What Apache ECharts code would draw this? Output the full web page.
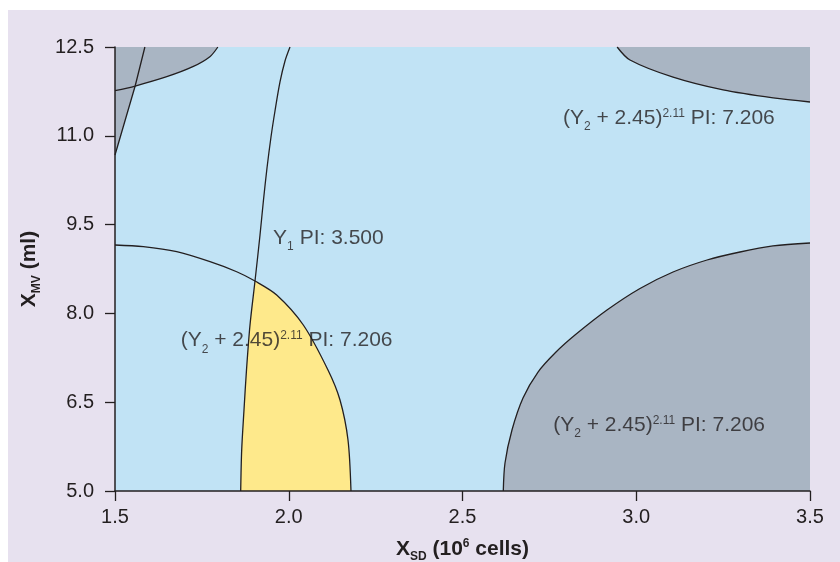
<!DOCTYPE html>
<html>
<head>
<meta charset="utf-8">
<script src="https://cdn.jsdelivr.net/npm/echarts@6/dist/echarts.min.js"></script>
<style>
  html, body { margin: 0; padding: 0; background: #ffffff; }
  #wrap { position: relative; width: 840px; height: 562px; background: #ffffff; overflow: hidden; }
  #bg { position: absolute; left: 8px; top: 10px; right: 0; bottom: 0; background: #e7e1ef; }
  #chart { position: absolute; left: 0; top: 0; width: 840px; height: 562px; }
</style>
</head>
<body>
<div id="wrap"><div id="bg"></div><div id="chart"></div></div>
<script>
// ---- Data ----
const xTicks = [1.5, 2.0, 2.5, 3.0, 3.5];
const yTicks = [5.0, 6.5, 8.0, 9.5, 11.0, 12.5];

// Y1 contour (PI 3.500), main curve
const y1MainContour = [
  [1.8617, 5.0], [1.8646, 5.693], [1.8712, 6.368], [1.8784, 7.044], [1.8885, 7.804],
  [1.9029, 8.547], [1.9173, 9.324], [1.9273, 9.916], [1.9374, 10.456], [1.9489, 10.98],
  [1.9604, 11.419], [1.9748, 11.909], [1.9892, 12.264], [2.0036, 12.5]
];
// Y1 contour, top-left corner piece
const y1CornerContour = [[1.5, 10.676], [1.558, 11.841], [1.586, 12.5]];

// (Y2 + 2.45)^2.11 contour (PI 7.206) pieces
const y2CenterContour = [
  [1.5, 9.155], [1.5814, 9.127], [1.6776, 9.042], [1.7734, 8.873], [1.8502, 8.704],
  [1.9029, 8.547], [1.9653, 8.311], [2.0419, 7.804], [2.1129, 7.044], [2.1475, 6.537],
  [2.1705, 5.861], [2.1791, 5.0]
];
const y2TopLeftContour = [
  [1.5, 11.762], [1.558, 11.841], [1.649, 11.998], [1.724, 12.167], [1.773, 12.336], [1.796, 12.5]
];
const y2TopRightContour = [
  [2.945, 12.5], [2.982, 12.28], [3.106, 11.99], [3.25, 11.774], [3.394, 11.639], [3.5, 11.571]
];
const y2BottomRightContour = [
  [2.6174, 5.0], [2.6223, 5.473], [2.6424, 6.03], [2.6741, 6.571], [2.7173, 7.01], [2.7691, 7.348],
  [2.8237, 7.635], [2.9158, 8.057], [3.0108, 8.421], [3.1058, 8.699], [3.2036, 8.902],
  [3.2986, 9.037], [3.3935, 9.139], [3.5, 9.189]
];

// Contour labels
const labelTexts = [
  '(Y{sub|2} + 2.45){sup|2.11} PI: 7.206',
  'Y{sub|1} PI: 3.500',
  '(Y{sub|2} + 2.45){sup|2.11} PI: 7.206',
  '(Y{sub|2} + 2.45){sup|2.11} PI: 7.206'
];
const labelX = [2.789, 1.955, 1.689, 2.761];
const labelY = [11.30, 9.274, 7.542, 6.115];

// ---- Styling ----
const FONT = '"Liberation Sans", Arial, Helvetica, sans-serif';
const INK = '#231f20';
const BLUE = '#c1e3f5';
const GREY = '#a9b5c3';
const YELLOW = '#fee98b';
const SMOOTH = 0.3;

const richSmall = {
  sub: { fontSize: 12, fontFamily: FONT, color: INK, lineHeight: 30, padding: [18, 0, 0, 0] },
  sup: { fontSize: 12, fontFamily: FONT, color: INK, lineHeight: 30, padding: [0, 0, 9, 0] }
};
const richName = {
  b: { fontSize: 21, fontWeight: 'bold', fontFamily: FONT, color: INK, lineHeight: 30 },
  sub: { fontSize: 12, fontWeight: 'bold', fontFamily: FONT, color: INK, lineHeight: 30, padding: [16, 0, 0, 0] },
  sup: { fontSize: 12, fontWeight: 'bold', fontFamily: FONT, color: INK, lineHeight: 30, padding: [0, 0, 10, 0] }
};

function fillSeries(data, color, origin, smooth) {
  return {
    type: 'line', data: data, smooth: smooth, symbol: 'none', showSymbol: false,
    lineStyle: { width: 0, opacity: 0 },
    areaStyle: { color: color, opacity: 1, origin: origin },
    silent: true, z: 2
  };
}
function strokeSeries(data, smooth) {
  return {
    type: 'line', data: data, smooth: smooth, symbol: 'none', showSymbol: false,
    lineStyle: { color: INK, width: 1.3 }, silent: true, z: 3
  };
}

const tlFillA = y1CornerContour.slice(0, 2);
const yellowFillA = y1MainContour.slice(0, 6).concat([y2CenterContour[6]]);
const yellowFillB = y2CenterContour.slice(5);

const chart = echarts.init(document.getElementById('chart'), null, { renderer: 'canvas' });
chart.setOption({
  animation: false,
  textStyle: { fontFamily: FONT, color: INK },
  grid: {
    left: 115, right: 30, top: 47, bottom: 71,
    show: true, backgroundColor: BLUE, borderWidth: 0,
    containLabel: false, outerBoundsMode: 'none'
  },
  xAxis: {
    type: 'value', min: 1.5, max: 3.5, z: 10,
    name: '{b|X}{sub|SD}{b| (10}{sup|6}{b| cells)}',
    nameLocation: 'middle', nameGap: 43,
    nameTextStyle: { fontSize: 21, fontWeight: 'bold', fontFamily: FONT, color: INK, lineHeight: 30, rich: richName },
    axisLine: { show: true, lineStyle: { color: INK, width: 1.5 } },
    axisTick: { show: true, length: 10, lineStyle: { color: INK, width: 1.3 }, customValues: xTicks },
    axisLabel: { fontSize: 20, color: INK, fontFamily: FONT, margin: 16, customValues: xTicks, formatter: v => v.toFixed(1) },
    splitLine: { show: false }
  },
  yAxis: {
    type: 'value', min: 5, max: 12.5, z: 10,
    name: '{b|X}{sub|MV}{b| (ml)}',
    nameLocation: 'middle', nameGap: 62, nameRotate: 90,
    nameTextStyle: { fontSize: 21, fontWeight: 'bold', fontFamily: FONT, color: INK, lineHeight: 30, rich: richName },
    axisLine: { show: true, lineStyle: { color: INK, width: 1.5 } },
    axisTick: { show: true, length: 10, lineStyle: { color: INK, width: 1.3 }, customValues: yTicks },
    axisLabel: { fontSize: 20, color: INK, fontFamily: FONT, margin: 21, customValues: yTicks, formatter: v => v.toFixed(1) },
    splitLine: { show: false }
  },
  series: [
    fillSeries(tlFillA, GREY, 'end', false),
    fillSeries(y2TopLeftContour, GREY, 'end', SMOOTH),
    fillSeries(y2TopRightContour, GREY, 'end', SMOOTH),
    fillSeries(y2BottomRightContour, GREY, 'start', SMOOTH),
    fillSeries(yellowFillA, YELLOW, 'start', false),
    fillSeries(yellowFillB, YELLOW, 'start', SMOOTH),
    strokeSeries(y2TopLeftContour, SMOOTH),
    strokeSeries(y2TopRightContour, SMOOTH),
    strokeSeries(y2BottomRightContour, SMOOTH),
    strokeSeries(y2CenterContour, SMOOTH),
    strokeSeries(y1MainContour, SMOOTH),
    strokeSeries(y1CornerContour, false),
    {
      type: 'scatter', z: 5, silent: true,
      data: labelX.map((x, i) => [x, labelY[i]]),
      symbolSize: 0,
      itemStyle: { color: 'rgba(0,0,0,0)' },
      label: {
        show: true, position: 'right', distance: 0,
        formatter: p => labelTexts[p.dataIndex],
        fontSize: 21, fontFamily: FONT, color: INK, lineHeight: 30,
        rich: richSmall
      }
    }
  ]
});
</script>
</body>
</html>
